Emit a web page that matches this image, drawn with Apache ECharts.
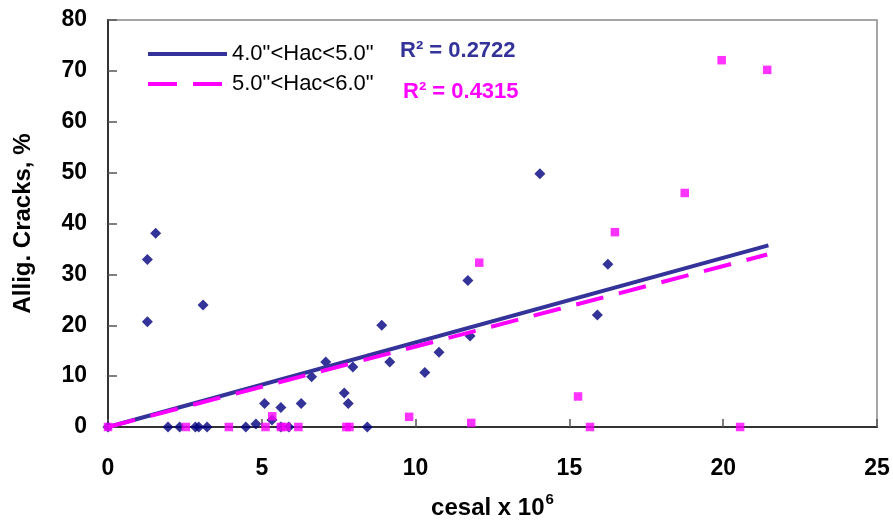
<!DOCTYPE html>
<html>
<head>
<meta charset="utf-8">
<script src="https://cdn.jsdelivr.net/npm/echarts@6/dist/echarts.min.js"></script>
<style>html,body{margin:0;padding:0;background:#fff;}#c{width:893px;height:520px;}</style>
</head>
<body>
<div id="c"></div>
<script>
// Data
const series1Name = '4.0"<Hac<5.0"';
const series2Name = '5.0"<Hac<6.0"';
const hac45Points = [
  [0,0],[1.28,32.9],[1.28,20.7],[1.55,38.1],[1.95,0],[2.33,0],[2.84,0],[2.95,0],
  [3.09,24.0],[3.22,0],[4.48,0],[4.81,0.6],[5.09,4.6],[5.33,1.4],[5.62,3.85],[5.62,0],
  [5.88,0],[6.28,4.6],[6.62,9.9],[7.08,12.8],[7.68,6.7],[7.81,4.6],[7.96,11.8],[8.43,0],
  [8.90,20.0],[9.16,12.8],[10.30,10.7],[10.76,14.7],[11.70,28.8],[11.77,17.9],
  [14.04,49.8],[15.91,22.0],[16.25,32.0]
];
const hac56Points = [
  [0,0],[2.53,0],[3.93,0],[5.12,0],[5.34,2.1],[5.62,0],[5.80,0],[6.19,0],[7.75,0],[7.85,0],
  [9.79,2.0],[11.81,0.8],[12.07,32.3],[15.28,6.0],[15.67,0],[16.48,38.3],[18.75,46.0],
  [19.95,72.1],[20.55,0],[21.43,70.2]
];
const hac45Trend = [[0,0],[21.47,35.7]];
const hac56Trend = [[0,0],[21.43,33.9]];
const r2Labels = ['R\u00B2 = 0.2722', 'R\u00B2 = 0.4315'];
const xTicks = {min:0, max:25, interval:5};
const yTicks = {min:0, max:80, interval:10};

const FONT = '"Liberation Sans", Arial, sans-serif';
const chart = echarts.init(document.getElementById('c'), null, {renderer:'canvas'});
chart.setOption({
  animation:false,
  backgroundColor:'#fff',
  grid:{left:108, top:20, width:769, height:407, show:true, borderColor:'#888', borderWidth:1.5,
        containLabel:false, outerBoundsMode:'none'},
  legend:{
    data:[
      {name:series1Name, icon:'rect'},
      {name:series2Name, icon:'path://M0,0h29v4h-29zM45,0h29v4h-29zM78.9,0h0.1v4h-0.1z'}
    ],
    orient:'vertical', left:148, top:43, padding:0,
    itemWidth:79, itemHeight:4, itemGap:8,
    textStyle:{fontFamily:FONT, fontSize:22, color:'#000'},
    selectedMode:false
  },
  graphic:[
    {type:'text', left:400, top:40, style:{text:r2Labels[0], fill:'#333399', font:'bold 22px '+FONT}},
    {type:'text', left:403, top:81, style:{text:r2Labels[1], fill:'#FF00FF', font:'bold 22px '+FONT}}
  ],
  xAxis:{
    type:'value', min:xTicks.min, max:xTicks.max, interval:xTicks.interval,
    splitLine:{show:false},
    axisLine:{show:true, onZero:false, lineStyle:{color:'#333', width:2}},
    axisTick:{show:true, inside:true, length:8, lineStyle:{color:'#555', width:1.5}},
    axisLabel:{margin:30, fontFamily:FONT, fontSize:23, fontWeight:'bold', color:'#000'},
    name:'{a|cesal x 10}{s|6}', nameLocation:'middle', nameGap:65,
    nameTextStyle:{rich:{
      a:{fontFamily:FONT, fontSize:24, fontWeight:'bold', color:'#000', verticalAlign:'bottom', lineHeight:28},
      s:{fontFamily:FONT, fontSize:15, fontWeight:'bold', color:'#000', verticalAlign:'top', lineHeight:28, padding:[0,0,0,1]}
    }}
  },
  yAxis:{
    type:'value', min:yTicks.min, max:yTicks.max, interval:yTicks.interval,
    splitLine:{show:false},
    axisLine:{show:true, onZero:false, lineStyle:{color:'#333', width:2}},
    axisTick:{show:true, inside:true, length:9, lineStyle:{color:'#555', width:1.5}},
    axisLabel:{margin:21, fontFamily:FONT, fontSize:23, fontWeight:'bold', color:'#000'},
    name:'Allig. Cracks, %', nameLocation:'middle', nameGap:73,
    nameTextStyle:{fontFamily:FONT, fontSize:24, fontWeight:'bold', color:'#000'}
  },
  series:[
    {name:'hac45pts', type:'scatter', data:hac45Points, symbol:'diamond', symbolSize:[11,11],
     itemStyle:{color:'#000080'}, z:2},
    {name:'hac56pts', type:'scatter', data:hac56Points, symbol:'rect', symbolSize:8.5,
     itemStyle:{color:'#FF00FF'}, z:3},
    {name:series1Name, type:'line', data:hac45Trend, symbol:'none', showSymbol:false,
     lineStyle:{color:'#333399', width:4}, itemStyle:{color:'#333399'}, z:4},
    {name:series2Name, type:'line', data:hac56Trend, symbol:'none', showSymbol:false,
     lineStyle:{color:'#FF00FF', width:4, type:[28,16]}, itemStyle:{color:'#FF00FF'}, z:5}
  ]
});
</script>
</body>
</html>
